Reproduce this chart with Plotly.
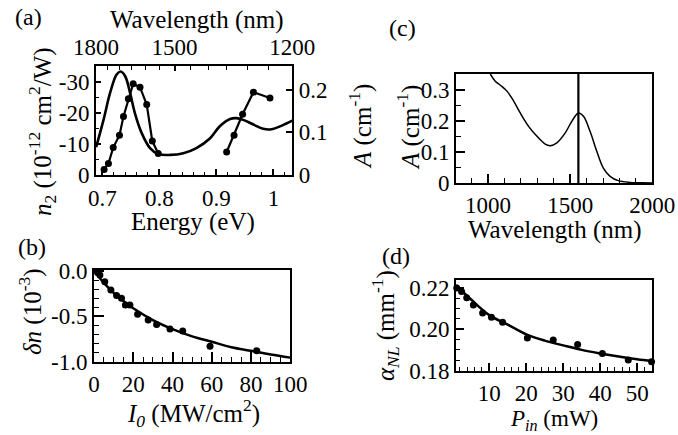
import plotly.graph_objects as go

W, H = 678, 435
FONT = "Liberation Serif"

# ---------------- data ----------------
# (a) absorption spectrum (right axis, A in cm^-1) vs photon energy (eV)
ENERGY_ABS = [0.689, 0.702, 0.7135, 0.725, 0.732, 0.740, 0.7486, 0.757, 0.769, 0.7836,
              0.798, 0.819, 0.842, 0.865, 0.889, 0.906, 0.924, 0.935, 0.947, 0.965,
              0.982, 0.997, 1.014, 1.033]
ABS_A = [0.065, 0.129, 0.192, 0.235, 0.242, 0.231, 0.192, 0.145, 0.098, 0.063,
         0.049, 0.047, 0.051, 0.063, 0.086, 0.114, 0.131, 0.133, 0.129, 0.118,
         0.108, 0.107, 0.115, 0.127]
# (a) n2 measurements (left axis), two spectral segments
N2_E1 = [0.703, 0.7106, 0.719, 0.730, 0.737, 0.7456, 0.754, 0.766, 0.7778, 0.7876, 0.798]
N2_V1 = [-1.8, -3.7, -8.8, -12.8, -18.8, -24.5, -29.3, -28.2, -22.6, -10.9, -6.9]
N2_E2 = [0.918, 0.931, 0.946, 0.965, 0.994]
N2_V2 = [-7.4, -12.8, -19.5, -26.6, -24.7]
WL_TOP_LABELED = [1800, 1500, 1200]
WL_TOP_MINOR = [1750, 1700, 1650, 1600, 1550, 1450, 1400, 1350, 1300, 1250]

# (b) refractive index change vs intensity
I0_DATA = [1.8, 3.0, 5.5, 8.6, 11.5, 14, 16, 18.3, 22.2, 27.6, 31.9, 38.7, 45.2, 59.1, 82.9]
DN_DATA = [-0.015, -0.044, -0.118, -0.21, -0.27, -0.30, -0.375, -0.375, -0.477, -0.54,
           -0.59, -0.64, -0.66, -0.83, -0.88]
I0_FIT = [0, 5, 10, 15, 20, 30, 40, 50, 60, 70, 80, 90, 100]
DN_FIT = [0, -0.13, -0.24, -0.33, -0.41, -0.54, -0.64, -0.72, -0.78, -0.84, -0.88, -0.92, -0.955]

# (c) absorption vs wavelength
WL_ABS = [1014, 1044, 1075, 1115, 1156, 1196, 1247, 1298, 1348, 1378, 1419, 1470, 1510,
          1550, 1581, 1621, 1662, 1702, 1743, 1793, 1864, 1930, 2000]
ABS_C = [0.35, 0.327, 0.314, 0.295, 0.263, 0.225, 0.182, 0.150, 0.125, 0.12, 0.129, 0.161,
         0.198, 0.225, 0.214, 0.166, 0.102, 0.048, 0.0215, 0.0075, 0.002, 0.001, 0.0]
LASER_WL = 1550

# (d) nonlinear absorption vs input power
P_DATA = [1.2, 2.5, 3.9, 5.7, 8.2, 10.6, 13.6, 20.3, 27.3, 33.9, 40.6, 47.6, 53.9]
ALPHA_DATA = [0.2199, 0.2183, 0.2152, 0.2117, 0.2078, 0.2058, 0.2034, 0.1958, 0.1948,
              0.1926, 0.1883, 0.1851, 0.1843]
P_FIT = [1, 5, 10, 15, 20, 25, 30, 35, 40, 45, 50, 54.1]
ALPHA_FIT = [0.2213, 0.2145, 0.2068, 0.2022, 0.1975, 0.1945, 0.1922, 0.1900, 0.1883,
             0.1868, 0.1855, 0.1846]

# ---------------- helpers ----------------
def dx(l, r):
    return [l / W, r / W]

def dy(t, b):
    return [1 - b / H, 1 - t / H]

def px(x):
    return x / W

def py(y):
    return 1 - y / H

TICKFONT = dict(family=FONT, size=23, color="black")
BASE = dict(showline=True, linecolor="black", linewidth=1.8, ticks="inside",
            tickcolor="black", tickwidth=1.5, showgrid=False, zeroline=False,
            tickfont=TICKFONT, fixedrange=True, automargin=False)

def minor(d, t0, ln=3):
    return dict(ticks="inside", ticklen=ln, tickwidth=1, tickcolor="black", dtick=d, tick0=t0, showgrid=False)

E_RANGE = [1239.84 / 1800, 1239.84 / 1200]

fig = go.Figure()

# (a)
fig.add_trace(go.Scatter(x=ENERGY_ABS, y=ABS_A, mode="lines", line=dict(color="black", width=2.6, shape="spline"),
                         xaxis="x", yaxis="y2", showlegend=False))
fig.add_trace(go.Scatter(x=N2_E1, y=N2_V1, mode="lines+markers", line=dict(color="black", width=2.2),
                         marker=dict(color="black", size=7), xaxis="x", yaxis="y", showlegend=False))
fig.add_trace(go.Scatter(x=N2_E2, y=N2_V2, mode="lines+markers", line=dict(color="black", width=2.2),
                         marker=dict(color="black", size=7), xaxis="x", yaxis="y", showlegend=False))
fig.add_trace(go.Scatter(x=[E_RANGE[0]], y=[0], mode="markers", marker=dict(opacity=0),
                         xaxis="x2", yaxis="y", showlegend=False, hoverinfo="skip"))

# (c)
fig.add_trace(go.Scatter(x=WL_ABS, y=ABS_C, mode="lines", line=dict(color="black", width=1.5, shape="spline"),
                         xaxis="x3", yaxis="y3", showlegend=False))
fig.add_trace(go.Scatter(x=[LASER_WL, LASER_WL], y=[0, 0.35], mode="lines", line=dict(color="black", width=2.2),
                         xaxis="x3", yaxis="y3", showlegend=False))

# (b)
fig.add_trace(go.Scatter(x=I0_FIT, y=DN_FIT, mode="lines", line=dict(color="black", width=2.5, shape="spline"),
                         xaxis="x4", yaxis="y4", showlegend=False))
fig.add_trace(go.Scatter(x=I0_DATA, y=DN_DATA, mode="markers", marker=dict(color="black", size=7),
                         xaxis="x4", yaxis="y4", showlegend=False, cliponaxis=False))

# (d)
fig.add_trace(go.Scatter(x=P_FIT, y=ALPHA_FIT, mode="lines", line=dict(color="black", width=2.5, shape="spline"),
                         xaxis="x5", yaxis="y5", showlegend=False))
fig.add_trace(go.Scatter(x=P_DATA, y=ALPHA_DATA, mode="markers", marker=dict(color="black", size=7),
                         xaxis="x5", yaxis="y5", showlegend=False, cliponaxis=False))

layout = dict(
    width=W, height=H, margin=dict(l=0, r=0, t=0, b=0, pad=0, autoexpand=False),
    paper_bgcolor="white", plot_bgcolor="white",
    # (a)
    xaxis=dict(BASE, domain=dx(96, 292.3), anchor="y", range=E_RANGE,
               tickmode="array", tickvals=[0.7, 0.8, 0.9, 1.0], ticktext=["0.7", "0.8", "0.9", "1"],
               ticklen=6, minor=minor(0.02, 0.7, 3), ticklabelstandoff=1),
    xaxis2=dict(BASE, overlaying="x", side="top", anchor="y", range=E_RANGE,
                tickmode="array", tickvals=[1239.84 / w for w in WL_TOP_LABELED],
                ticktext=[str(w) for w in WL_TOP_LABELED], ticklen=5,
                minor=dict(ticks="inside", ticklen=4, tickwidth=1, tickcolor="black",
                           tickmode="array", tickvals=[1239.84 / w for w in WL_TOP_MINOR], showgrid=False)),
    yaxis=dict(BASE, domain=dy(66, 175), anchor="x", range=[0, -35],
               tickmode="array", tickvals=[0, -10, -20, -30], ticktext=["0", "-10", "-20", "-30"],
               ticklen=5, minor=minor(5, 0, 3)),
    yaxis2=dict(BASE, overlaying="y", side="right", anchor="x", range=[0, 0.255],
                tickmode="array", tickvals=[0, 0.1, 0.2], ticktext=["0", "0.1", "0.2"], ticklen=6),
    # (c)
    xaxis3=dict(BASE, domain=dx(456, 652.3), anchor="y3", range=[805, 2000], mirror=True,
                tickmode="array", tickvals=[1000, 1500, 2000], ticktext=["1000", "1500", "2000"],
                ticklen=9, minor=minor(100, 800, 5), ticklabelstandoff=0),
    yaxis3=dict(BASE, domain=dy(74, 183), anchor="x3", range=[0, 0.35], mirror=True,
                tickmode="array", tickvals=[0, 0.1, 0.2, 0.3], ticktext=["0", "0.1", "0.2", "0.3"],
                ticklen=9, minor=minor(0.05, 0, 5)),
    # (b)
    xaxis4=dict(BASE, domain=dx(94, 290.3), anchor="y4", range=[0, 100], mirror=True,
                tickmode="array", tickvals=[0, 20, 40, 60, 80, 100], ticktext=["0", "20", "40", "60", "80", "100"],
                ticklen=10, minor=minor(5, 0, 5), ticklabelstandoff=1),
    yaxis4=dict(BASE, domain=dy(270, 361.7), anchor="x4", range=[-1.0, 0.012], mirror=True,
                tickmode="array", tickvals=[0, -0.5, -1.0], ticktext=["0.0", "-0.5", "-1.0"],
                ticklen=10, minor=minor(0.1, 0, 5)),
    # (d)
    xaxis5=dict(BASE, domain=dx(456, 652.3), anchor="y5", range=[1.0, 54.1], mirror=True,
                tickmode="array", tickvals=[10, 20, 30, 40, 50], ticktext=["10", "20", "30", "40", "50"],
                ticklen=8, minor=minor(2, 0, 4), ticklabelstandoff=0),
    yaxis5=dict(BASE, domain=dy(280, 371), anchor="x5", range=[0.1798, 0.2238], mirror=True,
                tickmode="array", tickvals=[0.18, 0.20, 0.22], ticktext=["0.18", "0.20", "0.22"],
                ticklen=8, minor=minor(0.005, 0.18, 4)),
)

def ann(text, x, y, angle=None, size=25):
    d = dict(text=text, x=px(x), y=py(y), xref="paper", yref="paper", showarrow=False,
             xanchor="center", yanchor="middle",
             font=dict(family=FONT, size=size, color="black"))
    if angle is not None:
        d["textangle"] = angle
    return d

annotations = [
    ann("(a)", 28, 17, size=24),
    ann("Wavelength (nm)", 197, 20),
    ann("Energy (eV)", 193, 222),
    ann("<i>n</i><sub>2</sub> (10<sup>-12</sup> cm<sup>2</sup>/W)", 42, 132, angle=-90),
    ann("<i>A</i> (cm<sup>-1</sup>)", 360, 127, angle=-90),
    ann("(c)", 402, 28, size=24),
    ann("<i>A</i> (cm<sup>-1</sup>)", 408, 128, angle=-90),
    ann("Wavelength (nm)", 555, 230),
    ann("(b)", 32, 247, size=24),
    ann("<i>δn</i> (10<sup>-3</sup>)", 30, 312, angle=-90),
    ann("<i>I<sub>0</sub></i> (MW/cm<sup>2</sup>)", 193, 413),
    ann("(d)", 396, 256, size=24),
    ann("<i>α<sub>NL</sub></i> (mm<sup>-1</sup>)", 385, 325, angle=-90),
    ann("<i>P<sub>in</sub></i> (mW)", 554, 420, size=23),
]
layout["annotations"] = annotations
fig.update_layout(**layout)

fig.write_html("out.html", config={"displayModeBar": False},
               post_script="document.body.style.margin='0';document.body.style.padding='0';")
